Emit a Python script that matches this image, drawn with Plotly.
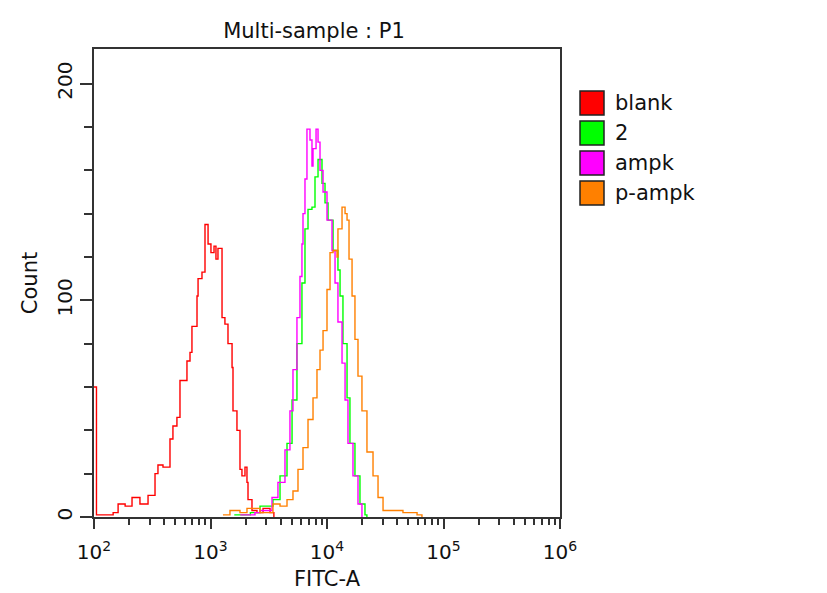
import plotly.graph_objects as go

# ---- data (FITC-A channel, counts) ----
blank_x = [100, 105, 146, 161, 185, 212, 248, 291, 334, 354, 391, 449, 476, 515, 547,
           628, 667, 693, 766, 782, 845, 897, 953, 1009, 1072, 1114, 1159, 1256, 1330,
           1413, 1531, 1560, 1687, 1791, 1862, 1977, 2056, 2099, 2270, 2506, 2825, 3243, 3500]
blank_y = [60, 1, 2, 6, 5, 9, 6, 10, 20, 24, 23, 36, 42, 46, 63,
           72, 76, 88, 102, 110, 113, 135, 126, 122, 125, 119, 124, 92, 89,
           80, 69, 49, 40, 22, 19, 23, 16, 8, 3, 2, 4, 2, 0]

s2_x = [1600, 2200, 2661, 3437, 3951, 4537, 5012, 5521, 6095, 6471, 6871, 7430, 7889,
        8375, 9057, 9616, 10210, 11272, 12417, 12942, 13709, 14859, 15740, 17378,
        19187, 21184, 22000]
s2_y = [1, 2, 5, 8, 19, 34, 54, 80, 108, 133, 142, 143, 157,
        165, 154, 145, 137, 123, 114, 102, 80, 55, 34, 19,
        6, 1, 0]

ampk_x = [1800, 2410, 2661, 3373, 3793, 4358, 4808, 5105, 5521, 5861, 6095, 6223, 6471,
          6730, 7145, 7430, 7586, 8054, 8375, 8710, 9247, 10000, 11041, 11722, 12417,
          13459, 14289, 15136, 16711, 18450, 19953]
ampk_y = [1, 2, 3, 9, 16, 31, 49, 68, 92, 111, 126, 140, 156,
          179, 174, 162, 170, 179, 173, 160, 150, 137, 123, 108, 90,
          71, 54, 34, 19, 6, 0]

pampk_x = [1279, 1469, 1791, 2056, 2661, 3437, 3951, 4537, 5105, 5636, 6223, 6871, 7586,
           8204, 8710, 9247, 10000, 10617, 11272, 12190, 12417, 13459, 14289, 14859,
           15453, 16406, 17378, 18450, 19953, 22029, 24831, 27416, 30269, 36898, 44875,
           59293, 65313]
pampk_y = [1, 3, 2, 4, 2, 6, 5, 8, 12, 22, 32, 45, 55,
           68, 77, 86, 105, 122, 123, 120, 133, 143, 140, 137,
           119, 102, 82, 65, 49, 30, 19, 9, 3, 3, 2,
           1, 0]

names = ["blank", "2", "ampk", "p-ampk"]
colors = ["#FF0000", "#00FF00", "#FF00FF", "#FF8000"]
series = [(blank_x, blank_y), (s2_x, s2_y), (ampk_x, ampk_y), (pampk_x, pampk_y)]

x_tickvals = [1e2, 1e3, 1e4, 1e5, 1e6]
x_ticktext = ["10<sup>2</sup>", "10<sup>3</sup>", "10<sup>4</sup>", "10<sup>5</sup>", "10<sup>6</sup>"]
y_tickvals = [0, 100, 200]

FONT = "DejaVu Sans"

fig = go.Figure()
for (xs, ys), name, col in zip(series, names, colors):
    fig.add_trace(go.Scatter(x=xs, y=ys, mode="lines", name=name, line_shape="hv",
                             line=dict(color=col, width=1.4), showlegend=False))

# page body adds 8px, so the plot box is placed 8px up/left of the target
OFF = 8
W, H, L, T = 466, 468, 94 - OFF, 49 - OFF

# hand-drawn legend with filled squares, like the cytometer export
for i, (name, col) in enumerate(zip(names, colors)):
    cy = 103 + 30 * i - OFF
    fig.add_shape(type="rect", xref="paper", yref="paper",
                  x0=(580 - OFF - L) / W, x1=(604 - OFF - L) / W,
                  y0=(T + H - cy - 12) / H, y1=(T + H - cy + 12) / H,
                  fillcolor=col, line=dict(color="#222222", width=1.5))
    fig.add_annotation(xref="paper", yref="paper", x=(613 - OFF - L) / W, y=(T + H - cy) / H,
                       text=name, showarrow=False, xanchor="left", yanchor="middle",
                       font=dict(family=FONT, size=21, color="#111111"))

fig.update_layout(
    width=827, height=593,
    margin=dict(l=L, r=827 - L - W, t=T, b=593 - T - H),
    paper_bgcolor="white", plot_bgcolor="white",
    font=dict(family=FONT, size=20, color="#111111"),
    title=dict(text="Multi-sample : P1", x=(314 - OFF - L) / W, xref="paper", xanchor="center",
               y=1 - (31 - OFF) / 593, yref="container", yanchor="middle",
               font=dict(family=FONT, size=21, color="#111111")),
    showlegend=False,
)

fig.update_xaxes(
    type="log", range=[2, 6], showgrid=False, zeroline=False,
    showline=True, mirror=True, linecolor="#333333", linewidth=2,
    tickvals=x_tickvals, ticktext=x_ticktext,
    ticks="outside", ticklen=10, tickwidth=1.5, tickcolor="#333333",
    ticklabelstandoff=6,
    minor=dict(ticks="outside", ticklen=6, tickwidth=1.5, tickcolor="#333333",
               dtick="D1", showgrid=False),
    title=dict(text="FITC-A", standoff=8, font=dict(size=21)),
    layer="below traces",
)
fig.update_yaxes(
    range=[0, 216], showgrid=False, zeroline=False,
    showline=True, mirror=True, linecolor="#333333", linewidth=2,
    tickvals=y_tickvals, tickangle=-90,
    ticks="outside", ticklen=12, tickwidth=1.5, tickcolor="#333333",
    minor=dict(ticks="outside", ticklen=8, tickwidth=1.5, tickcolor="#333333",
               dtick=20, showgrid=False),
    title=dict(text="Count", standoff=10, font=dict(size=21)),
    layer="below traces",
)

fig.write_html("out.html")
